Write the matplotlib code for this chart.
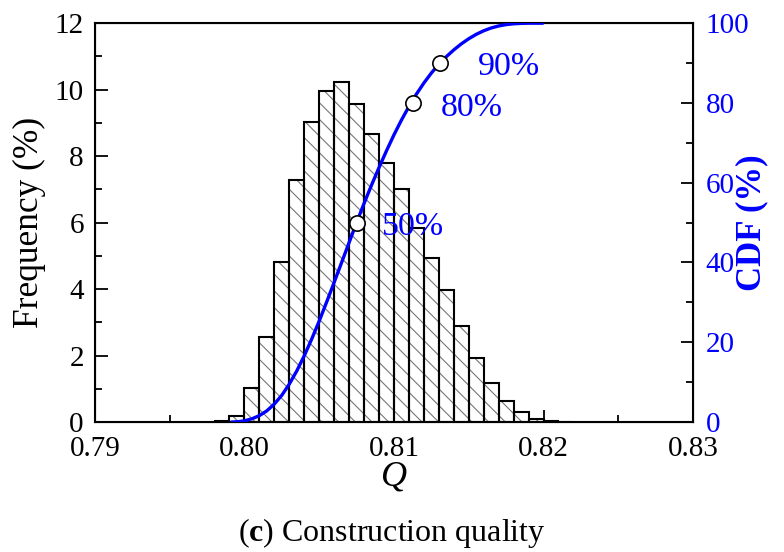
import numpy as np
import matplotlib
matplotlib.use('Agg')
import matplotlib.pyplot as plt

plt.rcParams['font.family'] = ['Liberation Serif', 'DejaVu Serif']
plt.rcParams['mathtext.fontset'] = 'custom'
plt.rcParams['mathtext.rm'] = 'Liberation Serif'
plt.rcParams['mathtext.bf'] = 'Liberation Serif:bold'
plt.rcParams['hatch.linewidth'] = 0.8

# histogram: left edges of bins (width 0.001) and frequency (%)
bin_left = [0.798, 0.799, 0.800, 0.801, 0.802, 0.803, 0.804, 0.805, 0.806,
            0.807, 0.808, 0.809, 0.810, 0.811, 0.812, 0.813, 0.814, 0.815,
            0.816, 0.817, 0.818, 0.819, 0.820, 0.821]
freq = [0.03, 0.19, 1.01, 2.55, 4.81, 7.28, 9.03, 9.95, 10.22,
        9.58, 8.67, 7.78, 7.00, 5.83, 4.94, 3.97, 2.88, 1.92,
        1.18, 0.63, 0.29, 0.10, 0.03, 0.01]
bin_width = 0.001

# CDF curve
cdf_q = [0.7992, 0.7996, 0.8000, 0.8005, 0.8010, 0.8015, 0.8020, 0.8025,
         0.8030, 0.8035, 0.8040, 0.8045, 0.8050, 0.8055, 0.8060, 0.8065,
         0.8070, 0.8075, 0.8080, 0.8085, 0.8090, 0.8095, 0.8100, 0.8105,
         0.8110, 0.8115, 0.8120, 0.8125, 0.8130, 0.8135, 0.8140, 0.8145,
         0.8150, 0.8155, 0.8160, 0.8165, 0.8170, 0.8175, 0.8180, 0.8185,
         0.8190, 0.8199]
cdf_pct = [0.0, 0.08, 0.3, 0.8, 1.6, 2.8, 4.5, 6.7,
           9.5, 12.8, 16.6, 20.8, 25.3, 30.1, 35.0, 40.0,
           45.0, 50.0, 54.8, 59.4, 63.8, 68.0, 72.0, 75.7,
           79.1, 82.2, 85.0, 87.5, 89.7, 91.6, 93.3, 94.8,
           96.1, 97.2, 98.1, 98.8, 99.3, 99.65, 99.85, 99.95,
           100.0, 100.0]

# marked percentiles and where their labels sit
mark_q = [0.8075, 0.8113, 0.8131]
mark_pct = [50, 80, 90]
mark_labels = ['50%', '80%', '90%']
label_q = [0.8092, 0.8131, 0.8156]
label_pct = [49.0, 78.7, 89.1]

fig = plt.figure(figsize=(7.84, 5.52), dpi=100)
ax = fig.add_axes([0.121, 0.2355, 0.763, 0.7225])

# hatch drawn in grey, outline in black on top
ax.bar(bin_left, freq, width=bin_width, align='edge', facecolor='white',
       edgecolor='#777777', hatch='\\\\', linewidth=0, zorder=1)
ax.bar(bin_left, freq, width=bin_width, align='edge', facecolor='none',
       edgecolor='black', linewidth=1.5, zorder=2)

ax.set_xlim(0.79, 0.83)
ax.set_ylim(0, 12)
ax.set_xticks([0.79, 0.80, 0.81, 0.82, 0.83])
ax.set_xticklabels(['0.79', '0.80', '0.81', '0.82', '0.83'])
ax.set_xticks(np.arange(0.795, 0.83, 0.01), minor=True)
ax.set_yticks(range(0, 13, 2))
ax.set_yticks(range(1, 12, 2), minor=True)
ax.tick_params(which='both', direction='in', labelsize=21, top=False, right=False)
ax.tick_params(axis='y', pad=8)
ax.tick_params(axis='x', pad=10)
ax.tick_params(which='major', length=9, width=1.3)
ax.tick_params(which='minor', length=5, width=1.3)
for s in ax.spines.values():
    s.set_linewidth(1.5)
ax.set_xlabel('Q', fontsize=26, fontstyle='italic', labelpad=-1)
ax.set_ylabel('Frequency (%)', fontsize=25.5, labelpad=6)

ax2 = ax.twinx()
ax2.plot(cdf_q, cdf_pct, color='#0000ff', linewidth=2.4, zorder=3)
ax2.plot(mark_q, mark_pct, 'o', markersize=11, markerfacecolor='white',
         markeredgecolor='black', markeredgewidth=1.2, zorder=4)
for x, y, lab in zip(label_q, label_pct, mark_labels):
    ax2.text(x, y, lab, color='#0000ff', fontsize=24.5, va='center', ha='left')
ax2.set_ylim(0, 100)
ax2.set_yticks(range(0, 101, 20))
ax2.set_yticks(range(10, 100, 20), minor=True)
ax2.tick_params(which='both', direction='in', labelsize=21, labelcolor='#0000ff', pad=9)
ax2.tick_params(which='major', length=9, width=1.3)
ax2.tick_params(which='minor', length=5, width=1.3)
ax2.set_ylabel('CDF (%)', fontsize=25, color='#0000ff', fontweight='bold')
ax2.yaxis.set_label_coords(1.07, 0.5)

fig.text(0.5, 0.034, r'($\mathbf{c}$) Construction quality', fontsize=23,
         ha='center', va='center')

fig.savefig('out.png', dpi=100)
